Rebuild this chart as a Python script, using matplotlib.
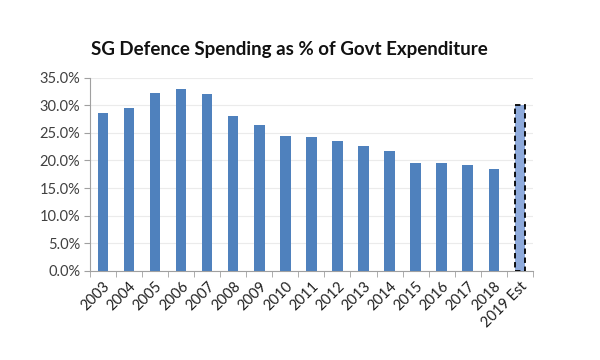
import matplotlib
matplotlib.use("Agg")
import matplotlib.pyplot as plt
import numpy as np

years = ["2003", "2004", "2005", "2006", "2007", "2008", "2009", "2010", "2011",
         "2012", "2013", "2014", "2015", "2016", "2017", "2018", "2019 Est"]
spending_pct = [28.6, 29.5, 32.2, 32.9, 32.0, 28.1, 26.4, 24.4, 24.2,
                23.5, 22.7, 21.8, 19.5, 19.5, 19.2, 18.4, 30.0]
y_ticks = [0, 5, 10, 15, 20, 25, 30, 35]

plt.rcParams['font.family'] = ['Lato', 'DejaVu Sans']

fig = plt.figure(figsize=(6, 3.6), dpi=100)
ax = fig.add_axes([0.15, 0.248, 0.738, 0.536])

x = np.arange(len(years))
colors = ['#4F81BD'] * (len(years) - 1) + ['#8EAADB']
bars = ax.bar(x, spending_pct, width=0.4, color=colors, zorder=3)
est = bars[-1]
est.set_edgecolor('black')
est.set_linestyle((0, (3, 2)))
est.set_linewidth(1.3)

ax.set_xlim(-0.5, len(years) - 0.5)
ax.set_ylim(0, 35)
ax.set_yticks(y_ticks)
ax.set_yticklabels([f"{v:.1f}%" for v in y_ticks], fontsize=10.5, color='#404040')
ax.yaxis.grid(True, color='#EBEBEB', linewidth=0.8, zorder=0)

ax.set_xticks(x)
ax.set_xticklabels(years, rotation=45, ha='right', rotation_mode='anchor',
                   fontsize=10.5, color='#202020')
ax.tick_params(axis='x', which='major', length=0, pad=6)
ax.set_xticks(np.arange(-0.5, len(years)), minor=True)
ax.tick_params(axis='x', which='minor', length=4, color='#A0A0A0')
ax.tick_params(axis='y', length=4, color='#A0A0A0', pad=3)

for side in ['top', 'right']:
    ax.spines[side].set_visible(False)
for side in ['left', 'bottom']:
    ax.spines[side].set_color('#A0A0A0')

fig.text(0.482, 0.862, "SG Defence Spending as % of Govt Expenditure",
         ha='center', va='center', fontsize=13.5, fontweight='bold', color='#111111')

fig.savefig("out.png", dpi=100, facecolor='white')
